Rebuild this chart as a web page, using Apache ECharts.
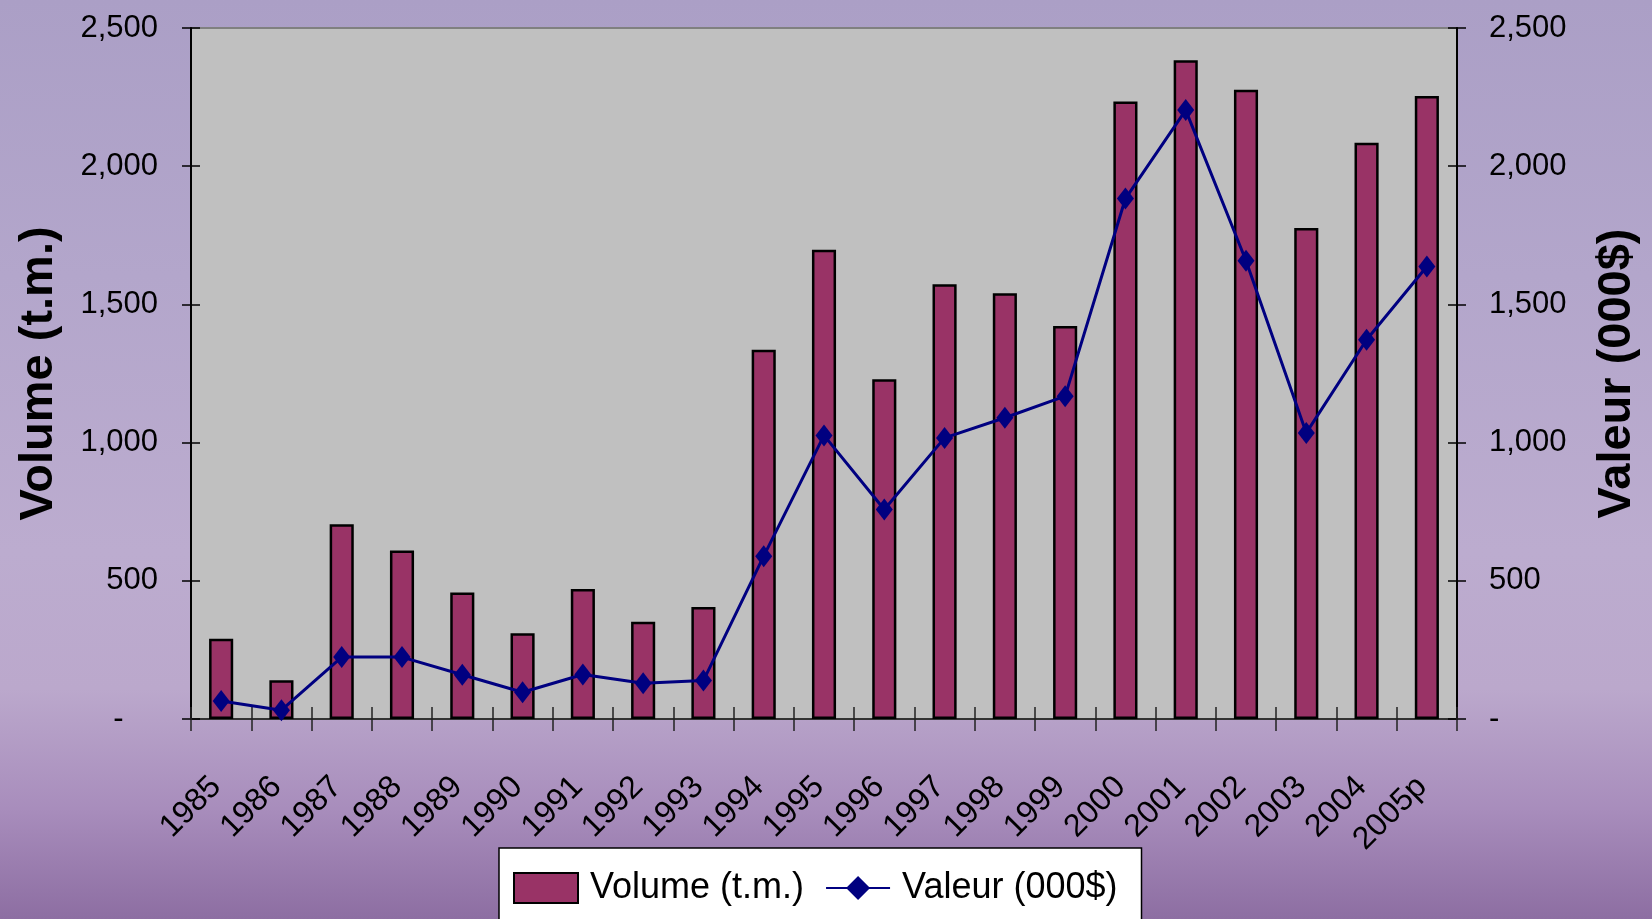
<!DOCTYPE html>
<html>
<head>
<meta charset="utf-8">
<script src="https://cdn.jsdelivr.net/npm/echarts@6/dist/echarts.min.js"></script>
<style>
  html, body { margin: 0; padding: 0; }
  #chart {
    width: 1652px; height: 919px;
    background: linear-gradient(to bottom, #ab9fc6 0%, #b3a6cb 30%, #bcaccf 60%, #bba8cc 75%, #a88dbc 88%, #8d6ea2 100%);
  }
</style>
</head>
<body>
<div id="chart"></div>
<script>
const categories = ['1985','1986','1987','1988','1989','1990','1991','1992','1993','1994','1995','1996','1997','1998','1999','2000','2001','2002','2003','2004','2005p'];
const volume = [290, 140, 705, 610, 458, 310, 470, 352, 405, 1336, 1698, 1229, 1573, 1540, 1422, 2234, 2383, 2277, 1776, 2085, 2254];
const valeur = [65, 32, 224, 224, 160, 97, 161, 129, 139, 589, 1026, 758, 1017, 1090, 1168, 1883, 2203, 1658, 1035, 1372, 1637];
const yTicks = { min: 0, max: 2500, interval: 500 };

const narrow = "'Liberation Sans Narrow', 'Arial Narrow', 'Liberation Sans', sans-serif";
const bold = "'Liberation Sans', Arial, sans-serif";

function fmt(v) {
  return v.toLocaleString('en-US');
}

const chart = echarts.init(document.getElementById('chart'));
chart.setOption({
  backgroundColor: 'transparent',
  animation: false,
  grid: {
    left: 191, right: 195, top: 28, bottom: 200,
    show: true, backgroundColor: '#c0c0c0', borderColor: '#808080', borderWidth: 2
  },
  legend: {
    left: 499, top: 848,
    backgroundColor: '#ffffff', borderColor: '#000000', borderWidth: 1.5, borderRadius: 0,
    padding: [22, 24, 30, 14],
    itemWidth: 64, itemHeight: 30, itemGap: 21,
    textStyle: { fontFamily: narrow, fontSize: 36, color: '#000', padding: [0, 0, 0, 7] },
    data: [{ name: 'Volume (t.m.)', icon: 'rect' }, { name: 'Valeur (000$)' }]
  },
  xAxis: [{
    type: 'category', data: categories, position: 'bottom',
    axisLine: { show: true, lineStyle: { color: '#333', width: 2 } },
    axisTick: { show: true, inside: false, length: 12, lineStyle: { color: '#222', width: 1.5 } },
    axisLabel: { interval: 0, rotate: 45, margin: 58, fontFamily: narrow, fontSize: 32, color: '#000',
      padding: [0, 7, 0, 0] },
    splitLine: { show: false }
  }, {
    type: 'category', data: categories, position: 'bottom',
    axisLine: { show: false },
    axisTick: { show: true, inside: true, length: 12, lineStyle: { color: '#222', width: 1.5 } },
    axisLabel: { show: false },
    splitLine: { show: false }
  }],
  yAxis: [{
    type: 'value', position: 'left', min: yTicks.min, max: yTicks.max, interval: yTicks.interval,
    axisLine: { show: true, lineStyle: { color: '#000', width: 2 } },
    axisTick: { show: true, inside: false, length: 9, lineStyle: { color: '#000', width: 1.5 } },
    axisLabel: { margin: 33, fontFamily: narrow, fontSize: 31, color: '#000',
      formatter: v => v === 0 ? '-\u2007\u2007' : fmt(v) },
    splitLine: { show: false },
    name: 'Volume (t.m.)', nameLocation: 'middle', nameRotate: 90, nameGap: 128,
    nameTextStyle: { fontFamily: bold, fontWeight: 'bold', fontSize: 47, color: '#000' }
  }, {
    type: 'value', position: 'right', min: yTicks.min, max: yTicks.max, interval: yTicks.interval,
    axisLine: { show: true, lineStyle: { color: '#000', width: 2 } },
    axisTick: { show: true, inside: false, length: 9, lineStyle: { color: '#000', width: 1.5 } },
    axisLabel: { margin: 32, fontFamily: narrow, fontSize: 31, color: '#000',
      formatter: v => v === 0 ? '-' : fmt(v) },
    splitLine: { show: false },
    name: 'Valeur (000$)', nameLocation: 'middle', nameRotate: 90, nameGap: 137,
    nameTextStyle: { fontFamily: bold, fontWeight: 'bold', fontSize: 47, color: '#000' }
  }, {
    type: 'value', position: 'left', min: yTicks.min, max: yTicks.max, interval: yTicks.interval,
    axisLine: { show: false },
    axisTick: { show: true, inside: true, length: 9, lineStyle: { color: '#000', width: 1.5 } },
    axisLabel: { show: false }, splitLine: { show: false }
  }, {
    type: 'value', position: 'right', min: yTicks.min, max: yTicks.max, interval: yTicks.interval,
    axisLine: { show: false },
    axisTick: { show: true, inside: true, length: 9, lineStyle: { color: '#000', width: 1.5 } },
    axisLabel: { show: false }, splitLine: { show: false }
  }],
  series: [{
    name: 'Volume (t.m.)', type: 'bar', data: volume, xAxisIndex: 0, yAxisIndex: 0,
    barWidth: '40%',
    itemStyle: { color: '#993366', borderColor: '#000', borderWidth: 2.5 }
  }, {
    name: 'Valeur (000$)', type: 'line', data: valeur, xAxisIndex: 0, yAxisIndex: 1,
    symbol: 'diamond', symbolSize: [17, 22],
    lineStyle: { color: '#000080', width: 3 },
    itemStyle: { color: '#000080' },
    z: 5
  }]
});
</script>
</body>
</html>
